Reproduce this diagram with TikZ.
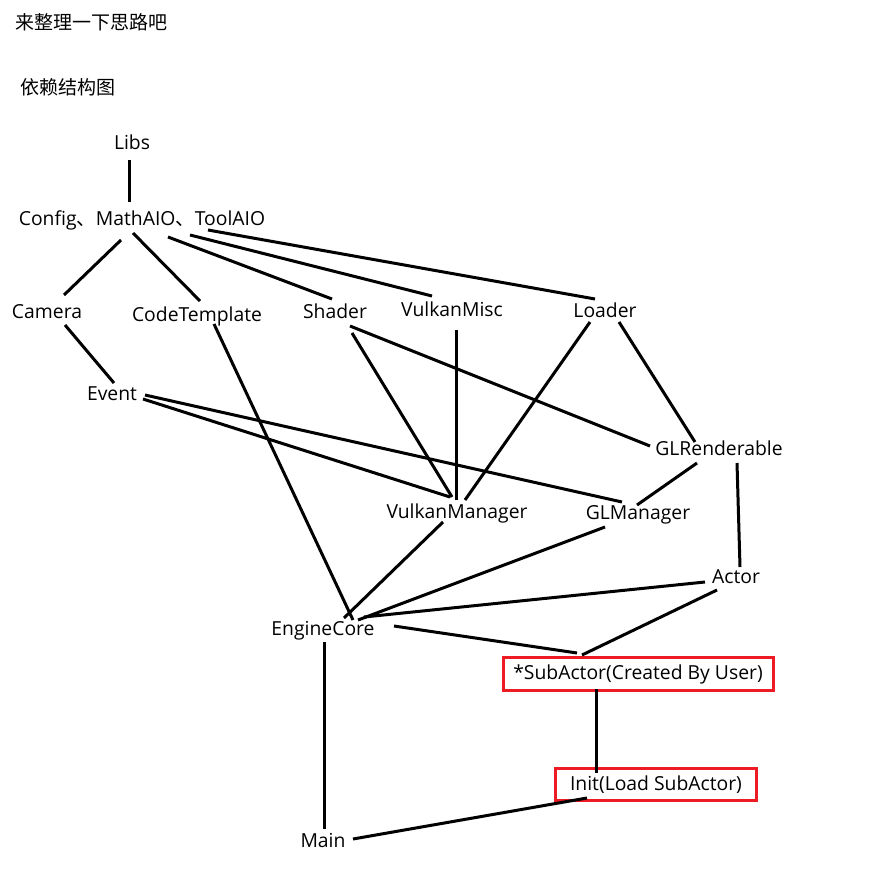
\documentclass[tikz,border=0pt]{standalone}
\usepackage{fontspec}
\setmainfont{Open Sans}
\newfontfamily\cjk{Noto Sans CJK SC}
\definecolor{boxred}{RGB}{237,28,36}
\begin{document}
\begin{tikzpicture}
[x=0.75pt,y=-0.75pt,
  lineDecorate/.style={-,line width=2.25pt},%
  nodeDecorate/.style={anchor=base,inner sep=0pt,font=\fontsize{14.5}{17}\selectfont},%
  boxDecorate/.style={draw=boxred,line width=2.25pt,inner sep=0pt,font=\fontsize{14.5}{17}\selectfont},%
  titleDecorate/.style={anchor=base west,inner sep=0pt,font={\fontsize{14.25}{17}\cjk}}]
\useasboundingbox (0,0) rectangle (882,884);
%% titles
\node[titleDecorate] (title) at (15,30) {来整理一下思路吧};
\node[titleDecorate] (subtitle) at (20,95) {依赖结构图};
%% nodes or vertices
\foreach \nodename/\x/\y/\label in {
  libs/132/150/Libs, aio/142/225/{Config{\cjk 、}MathAIO{\cjk 、}ToolAIO},
  camera/47/318/Camera, code/197/321/CodeTemplate, shader/335/318/Shader,
  vkmisc/452/316/VulkanMisc, loader/605/317/Loader, event/112/400/Event,
  glrend/719/455/GLRenderable, vkman/457/518/VulkanManager,
  glman/638/519/GLManager, actor/736/583/Actor, core/323/635/EngineCore,
  main/323/847/Main}
{
  \node (\nodename) at (\x,\y) [nodeDecorate] {\label};
}
\node (sub) at (638,674) [boxDecorate,minimum width=202.5pt,minimum height=24.75pt] {*SubActor(Created By User)};
\node (init) at (656,784.5) [boxDecorate,minimum width=150.75pt,minimum height=24.5pt] {Init(Load SubActor)};
%% edges or lines
\foreach \a/\ax/\ay/\b/\bx/\by in {
  libs.base/-3/10/aio.base/-13/-23, aio.base/-21/15/camera.base/17/-23,
  aio.base/-9/8/code.base/3/-20, aio.base/26/12/shader.base/-3/-19,
  aio.base/48/10/vkmisc.base/-20/-20, aio.base/66/5/loader.base/-10/-18,
  camera.base/18/7/event.base/2/-17, code.base/17/3/core.base/30/-15,
  event.base/33/-5/glman.base/-16/-17, event.base/31/-1/vkman.base/-7/-21,
  shader.base/17/15/vkman.base/-5/-21, shader.base/15/8/glrend.base/-69/-9,
  vkmisc.base/4/14/vkman.base/-1/-18, loader.base/-15/5/vkman.base/8/-18,
  loader.base/14/5/glrend.base/-24/-13, glrend.base/-22/8/glman.base/-1/-14,
  glrend.base/18/8/actor.base/4/-16, vkman.base/-14/4/core.base/21/-17,
  glman.base/-33/8/core.base/35/-15, actor.base/-31/-1/core.base/41/-18,
  actor.base/-19/7/sub.center/-56/-19, core.base/71/-9/sub.center/-61/-21,
  sub.center/-42/15/init.center/-60/-11.5, core.base/1/7/main.base/1/-18,
  init.center/-69/13.5/main.base/30/-8}
{
  \draw[lineDecorate] ([shift={(\ax,\ay)}]\a) -- ([shift={(\bx,\by)}]\b);
}
\end{tikzpicture}
\end{document}
